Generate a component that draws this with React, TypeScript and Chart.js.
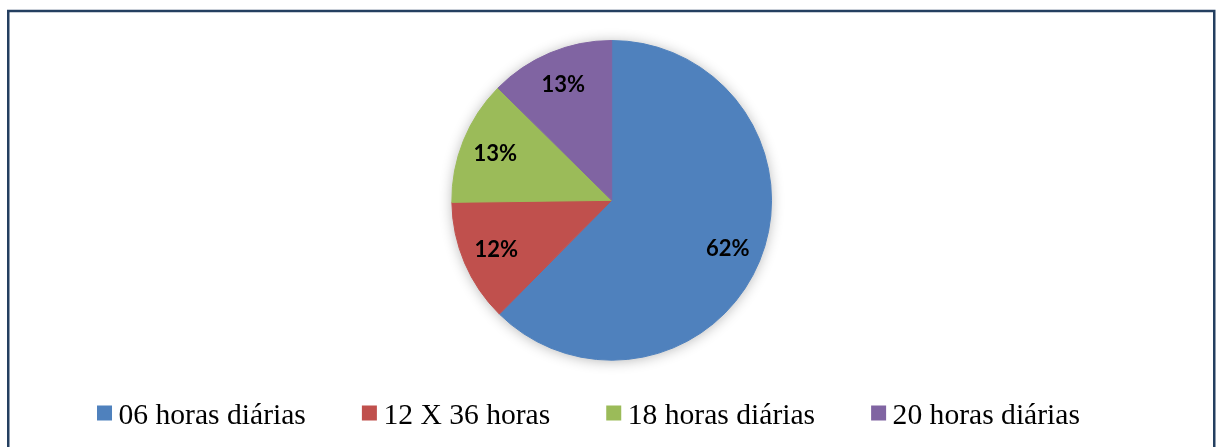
import React, { useEffect, useRef } from "react";
import { Chart, registerables } from "chart.js";

Chart.register(...registerables);

// ---- data ----
const categories = ["06 horas diárias", "12 X 36 horas", "18 horas diárias", "20 horas diárias"];
const shares = [62.4, 12.4, 12.6, 12.6];
const sliceColors = ["#4F81BD", "#C0504D", "#9BBB59", "#8064A2"];

const frameColor = "#243F60";

const framePlugin = {
  id: "frame",
  beforeDraw(chart: any) {
    const ctx = chart.ctx;
    ctx.save();
    ctx.strokeStyle = frameColor;
    ctx.lineWidth = 2.5;
    ctx.strokeRect(8.25, 11, 1206, 600);
    ctx.restore();
  },
};

const shadowPlugin = {
  id: "pieShadow",
  beforeDatasetsDraw(chart: any) {
    const arcs = chart.getDatasetMeta(0).data;
    if (!arcs.length) return;
    const a = arcs[0];
    const ctx = chart.ctx;
    ctx.save();
    ctx.shadowColor = "rgba(0,0,0,0.32)";
    ctx.shadowBlur = 14;
    ctx.shadowOffsetX = 0;
    ctx.shadowOffsetY = 1;
    ctx.fillStyle = "#ffffff";
    ctx.beginPath();
    ctx.arc(a.x, a.y, a.outerRadius - 1, 0, Math.PI * 2);
    ctx.fill();
    ctx.restore();
  },
};

const labelPlugin = {
  id: "sliceLabels",
  afterDatasetsDraw(chart: any) {
    const meta = chart.getDatasetMeta(0);
    const ctx = chart.ctx;
    const size = 22;
    ctx.save();
    ctx.font = `bold ${size}px Lato`;
    ctx.fillStyle = "#000000";
    ctx.textAlign = "center";
    ctx.textBaseline = "alphabetic";
    meta.data.forEach((arc: any, i: number) => {
      const mid = (arc.startAngle + arc.endAngle) / 2;
      const r = arc.outerRadius * 0.785;
      const x = arc.x + Math.cos(mid) * r;
      const y = arc.y + Math.sin(mid) * r;
      ctx.fillText(Math.round(shares[i]) + "%", x, y + size * 0.36);
    });
    ctx.restore();
  },
};

const legendPlugin = {
  id: "bottomLegend",
  afterDraw(chart: any) {
    const ctx = chart.ctx;
    ctx.save();
    ctx.font = '29.6px "Liberation Serif"';
    const box = 15;
    const gap = 6.5;
    const itemGap = 56;
    const widths = categories.map((c) => box + gap + ctx.measureText(c).width);
    const total = widths.reduce((s, w) => s + w, 0) + itemGap * (categories.length - 1);
    let x = 588.5 - total / 2;
    ctx.textBaseline = "alphabetic";
    ctx.textAlign = "left";
    categories.forEach((c, i) => {
      ctx.fillStyle = sliceColors[i];
      ctx.fillRect(x, 405.5, box, box);
      ctx.fillStyle = "#000000";
      ctx.fillText(c, x + box + gap, 424);
      x += widths[i] + itemGap;
    });
    ctx.restore();
  },
};

export default function App() {
  const ref = useRef<HTMLCanvasElement | null>(null);
  useEffect(() => {
    if (!ref.current) return;
    const chart = new Chart(ref.current, {
      type: "pie",
      data: {
        labels: categories,
        datasets: [
          {
            data: shares,
            backgroundColor: sliceColors,
            borderColor: sliceColors,
            borderWidth: 1,
          },
        ],
      },
      options: {
        responsive: false,
        animation: false,
        devicePixelRatio: 1,
        layout: { padding: { left: 7.4, right: 0, top: 40, bottom: 86.3 } },
        plugins: {
          legend: { display: false },
          tooltip: { enabled: false },
          title: { display: false },
        },
      },
      plugins: [framePlugin, shadowPlugin, labelPlugin, legendPlugin],
    });
    return () => chart.destroy();
  }, []);
  return (
    <div style={{ position: "fixed", left: 0, top: 0, width: 1216, height: 447, background: "#ffffff" }}>
      <canvas ref={ref} width={1216} height={447} style={{ width: 1216, height: 447, display: "block" }} />
    </div>
  );
}
